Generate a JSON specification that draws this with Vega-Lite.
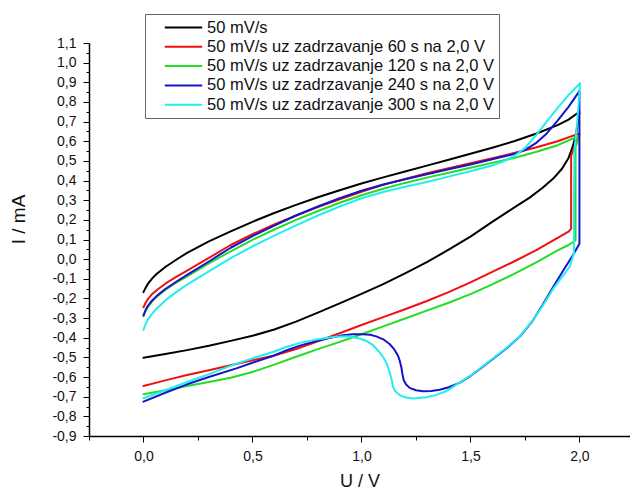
{
  "$schema": "https://vega.github.io/schema/vega-lite/v6.json",
  "width": 541,
  "height": 393,
  "autosize": {"type": "none"},
  "padding": {"left": 89, "top": 43, "right": 0, "bottom": 55},
  "background": "white",
  "config": {
    "view": {"stroke": null},
    "font": "Liberation Sans"
  },
  "data": {
    "values": [
      {"s":"50 mV/s","i":0,"U":0,"I":-0.168},
      {"s":"50 mV/s","i":1,"U":0.01,"I":-0.145},
      {"s":"50 mV/s","i":2,"U":0.02,"I":-0.126},
      {"s":"50 mV/s","i":3,"U":0.04,"I":-0.098},
      {"s":"50 mV/s","i":4,"U":0.06,"I":-0.076},
      {"s":"50 mV/s","i":5,"U":0.1,"I":-0.04},
      {"s":"50 mV/s","i":6,"U":0.15,"I":-0.003},
      {"s":"50 mV/s","i":7,"U":0.2,"I":0.032},
      {"s":"50 mV/s","i":8,"U":0.3,"I":0.09},
      {"s":"50 mV/s","i":9,"U":0.4,"I":0.141},
      {"s":"50 mV/s","i":10,"U":0.5,"I":0.19},
      {"s":"50 mV/s","i":11,"U":0.6,"I":0.235},
      {"s":"50 mV/s","i":12,"U":0.7,"I":0.276},
      {"s":"50 mV/s","i":13,"U":0.8,"I":0.315},
      {"s":"50 mV/s","i":14,"U":0.9,"I":0.351},
      {"s":"50 mV/s","i":15,"U":1.0,"I":0.385},
      {"s":"50 mV/s","i":16,"U":1.1,"I":0.416},
      {"s":"50 mV/s","i":17,"U":1.2,"I":0.446},
      {"s":"50 mV/s","i":18,"U":1.3,"I":0.476},
      {"s":"50 mV/s","i":19,"U":1.4,"I":0.506},
      {"s":"50 mV/s","i":20,"U":1.5,"I":0.536},
      {"s":"50 mV/s","i":21,"U":1.6,"I":0.567},
      {"s":"50 mV/s","i":22,"U":1.7,"I":0.6},
      {"s":"50 mV/s","i":23,"U":1.8,"I":0.638},
      {"s":"50 mV/s","i":24,"U":1.9,"I":0.682},
      {"s":"50 mV/s","i":25,"U":1.95,"I":0.71},
      {"s":"50 mV/s","i":26,"U":2.0,"I":0.75},
      {"s":"50 mV/s","i":27,"U":1.995,"I":0.71},
      {"s":"50 mV/s","i":28,"U":1.985,"I":0.64},
      {"s":"50 mV/s","i":29,"U":1.97,"I":0.575},
      {"s":"50 mV/s","i":30,"U":1.95,"I":0.515},
      {"s":"50 mV/s","i":31,"U":1.92,"I":0.46},
      {"s":"50 mV/s","i":32,"U":1.88,"I":0.41},
      {"s":"50 mV/s","i":33,"U":1.83,"I":0.362},
      {"s":"50 mV/s","i":34,"U":1.77,"I":0.312},
      {"s":"50 mV/s","i":35,"U":1.7,"I":0.262},
      {"s":"50 mV/s","i":36,"U":1.6,"I":0.19},
      {"s":"50 mV/s","i":37,"U":1.5,"I":0.115},
      {"s":"50 mV/s","i":38,"U":1.4,"I":0.048},
      {"s":"50 mV/s","i":39,"U":1.3,"I":-0.015},
      {"s":"50 mV/s","i":40,"U":1.2,"I":-0.072},
      {"s":"50 mV/s","i":41,"U":1.1,"I":-0.127},
      {"s":"50 mV/s","i":42,"U":1.0,"I":-0.177},
      {"s":"50 mV/s","i":43,"U":0.9,"I":-0.225},
      {"s":"50 mV/s","i":44,"U":0.8,"I":-0.272},
      {"s":"50 mV/s","i":45,"U":0.7,"I":-0.318},
      {"s":"50 mV/s","i":46,"U":0.6,"I":-0.358},
      {"s":"50 mV/s","i":47,"U":0.5,"I":-0.39},
      {"s":"50 mV/s","i":48,"U":0.4,"I":-0.416},
      {"s":"50 mV/s","i":49,"U":0.3,"I":-0.441},
      {"s":"50 mV/s","i":50,"U":0.2,"I":-0.463},
      {"s":"50 mV/s","i":51,"U":0.1,"I":-0.483},
      {"s":"50 mV/s","i":52,"U":0.0,"I":-0.502},

      {"s":"50 mV/s uz zadrzavanje 60 s na 2,0 V","i":0,"U":0,"I":-0.245},
      {"s":"50 mV/s uz zadrzavanje 60 s na 2,0 V","i":1,"U":0.01,"I":-0.222},
      {"s":"50 mV/s uz zadrzavanje 60 s na 2,0 V","i":2,"U":0.02,"I":-0.203},
      {"s":"50 mV/s uz zadrzavanje 60 s na 2,0 V","i":3,"U":0.04,"I":-0.177},
      {"s":"50 mV/s uz zadrzavanje 60 s na 2,0 V","i":4,"U":0.06,"I":-0.158},
      {"s":"50 mV/s uz zadrzavanje 60 s na 2,0 V","i":5,"U":0.1,"I":-0.125},
      {"s":"50 mV/s uz zadrzavanje 60 s na 2,0 V","i":6,"U":0.15,"I":-0.09},
      {"s":"50 mV/s uz zadrzavanje 60 s na 2,0 V","i":7,"U":0.2,"I":-0.058},
      {"s":"50 mV/s uz zadrzavanje 60 s na 2,0 V","i":8,"U":0.3,"I":0.006},
      {"s":"50 mV/s uz zadrzavanje 60 s na 2,0 V","i":9,"U":0.4,"I":0.072},
      {"s":"50 mV/s uz zadrzavanje 60 s na 2,0 V","i":10,"U":0.5,"I":0.127},
      {"s":"50 mV/s uz zadrzavanje 60 s na 2,0 V","i":11,"U":0.6,"I":0.177},
      {"s":"50 mV/s uz zadrzavanje 60 s na 2,0 V","i":12,"U":0.7,"I":0.222},
      {"s":"50 mV/s uz zadrzavanje 60 s na 2,0 V","i":13,"U":0.8,"I":0.265},
      {"s":"50 mV/s uz zadrzavanje 60 s na 2,0 V","i":14,"U":0.9,"I":0.305},
      {"s":"50 mV/s uz zadrzavanje 60 s na 2,0 V","i":15,"U":1.0,"I":0.343},
      {"s":"50 mV/s uz zadrzavanje 60 s na 2,0 V","i":16,"U":1.1,"I":0.378},
      {"s":"50 mV/s uz zadrzavanje 60 s na 2,0 V","i":17,"U":1.2,"I":0.408},
      {"s":"50 mV/s uz zadrzavanje 60 s na 2,0 V","i":18,"U":1.3,"I":0.437},
      {"s":"50 mV/s uz zadrzavanje 60 s na 2,0 V","i":19,"U":1.4,"I":0.463},
      {"s":"50 mV/s uz zadrzavanje 60 s na 2,0 V","i":20,"U":1.5,"I":0.488},
      {"s":"50 mV/s uz zadrzavanje 60 s na 2,0 V","i":21,"U":1.6,"I":0.513},
      {"s":"50 mV/s uz zadrzavanje 60 s na 2,0 V","i":22,"U":1.7,"I":0.54},
      {"s":"50 mV/s uz zadrzavanje 60 s na 2,0 V","i":23,"U":1.8,"I":0.568},
      {"s":"50 mV/s uz zadrzavanje 60 s na 2,0 V","i":24,"U":1.9,"I":0.6},
      {"s":"50 mV/s uz zadrzavanje 60 s na 2,0 V","i":25,"U":2.0,"I":0.64},
      {"s":"50 mV/s uz zadrzavanje 60 s na 2,0 V","i":26,"U":1.962,"I":0.525},
      {"s":"50 mV/s uz zadrzavanje 60 s na 2,0 V","i":27,"U":1.962,"I":0.155},
      {"s":"50 mV/s uz zadrzavanje 60 s na 2,0 V","i":28,"U":1.95,"I":0.14},
      {"s":"50 mV/s uz zadrzavanje 60 s na 2,0 V","i":29,"U":1.9,"I":0.108},
      {"s":"50 mV/s uz zadrzavanje 60 s na 2,0 V","i":30,"U":1.8,"I":0.045},
      {"s":"50 mV/s uz zadrzavanje 60 s na 2,0 V","i":31,"U":1.7,"I":-0.012},
      {"s":"50 mV/s uz zadrzavanje 60 s na 2,0 V","i":32,"U":1.6,"I":-0.065},
      {"s":"50 mV/s uz zadrzavanje 60 s na 2,0 V","i":33,"U":1.5,"I":-0.118},
      {"s":"50 mV/s uz zadrzavanje 60 s na 2,0 V","i":34,"U":1.4,"I":-0.168},
      {"s":"50 mV/s uz zadrzavanje 60 s na 2,0 V","i":35,"U":1.3,"I":-0.213},
      {"s":"50 mV/s uz zadrzavanje 60 s na 2,0 V","i":36,"U":1.2,"I":-0.255},
      {"s":"50 mV/s uz zadrzavanje 60 s na 2,0 V","i":37,"U":1.1,"I":-0.295},
      {"s":"50 mV/s uz zadrzavanje 60 s na 2,0 V","i":38,"U":1.0,"I":-0.335},
      {"s":"50 mV/s uz zadrzavanje 60 s na 2,0 V","i":39,"U":0.9,"I":-0.377},
      {"s":"50 mV/s uz zadrzavanje 60 s na 2,0 V","i":40,"U":0.8,"I":-0.418},
      {"s":"50 mV/s uz zadrzavanje 60 s na 2,0 V","i":41,"U":0.7,"I":-0.457},
      {"s":"50 mV/s uz zadrzavanje 60 s na 2,0 V","i":42,"U":0.6,"I":-0.49},
      {"s":"50 mV/s uz zadrzavanje 60 s na 2,0 V","i":43,"U":0.5,"I":-0.515},
      {"s":"50 mV/s uz zadrzavanje 60 s na 2,0 V","i":44,"U":0.4,"I":-0.54},
      {"s":"50 mV/s uz zadrzavanje 60 s na 2,0 V","i":45,"U":0.3,"I":-0.565},
      {"s":"50 mV/s uz zadrzavanje 60 s na 2,0 V","i":46,"U":0.2,"I":-0.59},
      {"s":"50 mV/s uz zadrzavanje 60 s na 2,0 V","i":47,"U":0.1,"I":-0.617},
      {"s":"50 mV/s uz zadrzavanje 60 s na 2,0 V","i":48,"U":0.0,"I":-0.646},

      {"s":"50 mV/s uz zadrzavanje 120 s na 2,0 V","i":0,"U":0,"I":-0.29},
      {"s":"50 mV/s uz zadrzavanje 120 s na 2,0 V","i":1,"U":0.01,"I":-0.262},
      {"s":"50 mV/s uz zadrzavanje 120 s na 2,0 V","i":2,"U":0.02,"I":-0.243},
      {"s":"50 mV/s uz zadrzavanje 120 s na 2,0 V","i":3,"U":0.04,"I":-0.215},
      {"s":"50 mV/s uz zadrzavanje 120 s na 2,0 V","i":4,"U":0.06,"I":-0.192},
      {"s":"50 mV/s uz zadrzavanje 120 s na 2,0 V","i":5,"U":0.1,"I":-0.157},
      {"s":"50 mV/s uz zadrzavanje 120 s na 2,0 V","i":6,"U":0.15,"I":-0.12},
      {"s":"50 mV/s uz zadrzavanje 120 s na 2,0 V","i":7,"U":0.2,"I":-0.088},
      {"s":"50 mV/s uz zadrzavanje 120 s na 2,0 V","i":8,"U":0.3,"I":-0.022},
      {"s":"50 mV/s uz zadrzavanje 120 s na 2,0 V","i":9,"U":0.4,"I":0.04},
      {"s":"50 mV/s uz zadrzavanje 120 s na 2,0 V","i":10,"U":0.5,"I":0.098},
      {"s":"50 mV/s uz zadrzavanje 120 s na 2,0 V","i":11,"U":0.6,"I":0.151},
      {"s":"50 mV/s uz zadrzavanje 120 s na 2,0 V","i":12,"U":0.7,"I":0.2},
      {"s":"50 mV/s uz zadrzavanje 120 s na 2,0 V","i":13,"U":0.8,"I":0.245},
      {"s":"50 mV/s uz zadrzavanje 120 s na 2,0 V","i":14,"U":0.9,"I":0.287},
      {"s":"50 mV/s uz zadrzavanje 120 s na 2,0 V","i":15,"U":1.0,"I":0.325},
      {"s":"50 mV/s uz zadrzavanje 120 s na 2,0 V","i":16,"U":1.1,"I":0.358},
      {"s":"50 mV/s uz zadrzavanje 120 s na 2,0 V","i":17,"U":1.2,"I":0.388},
      {"s":"50 mV/s uz zadrzavanje 120 s na 2,0 V","i":18,"U":1.3,"I":0.415},
      {"s":"50 mV/s uz zadrzavanje 120 s na 2,0 V","i":19,"U":1.4,"I":0.44},
      {"s":"50 mV/s uz zadrzavanje 120 s na 2,0 V","i":20,"U":1.5,"I":0.465},
      {"s":"50 mV/s uz zadrzavanje 120 s na 2,0 V","i":21,"U":1.6,"I":0.49},
      {"s":"50 mV/s uz zadrzavanje 120 s na 2,0 V","i":22,"U":1.7,"I":0.515},
      {"s":"50 mV/s uz zadrzavanje 120 s na 2,0 V","i":23,"U":1.8,"I":0.545},
      {"s":"50 mV/s uz zadrzavanje 120 s na 2,0 V","i":24,"U":1.9,"I":0.58},
      {"s":"50 mV/s uz zadrzavanje 120 s na 2,0 V","i":25,"U":2.0,"I":0.628},
      {"s":"50 mV/s uz zadrzavanje 120 s na 2,0 V","i":26,"U":1.982,"I":0.57},
      {"s":"50 mV/s uz zadrzavanje 120 s na 2,0 V","i":27,"U":1.982,"I":0.095},
      {"s":"50 mV/s uz zadrzavanje 120 s na 2,0 V","i":28,"U":1.95,"I":0.072},
      {"s":"50 mV/s uz zadrzavanje 120 s na 2,0 V","i":29,"U":1.9,"I":0.045},
      {"s":"50 mV/s uz zadrzavanje 120 s na 2,0 V","i":30,"U":1.8,"I":-0.018},
      {"s":"50 mV/s uz zadrzavanje 120 s na 2,0 V","i":31,"U":1.7,"I":-0.075},
      {"s":"50 mV/s uz zadrzavanje 120 s na 2,0 V","i":32,"U":1.6,"I":-0.128},
      {"s":"50 mV/s uz zadrzavanje 120 s na 2,0 V","i":33,"U":1.5,"I":-0.178},
      {"s":"50 mV/s uz zadrzavanje 120 s na 2,0 V","i":34,"U":1.4,"I":-0.222},
      {"s":"50 mV/s uz zadrzavanje 120 s na 2,0 V","i":35,"U":1.3,"I":-0.262},
      {"s":"50 mV/s uz zadrzavanje 120 s na 2,0 V","i":36,"U":1.2,"I":-0.302},
      {"s":"50 mV/s uz zadrzavanje 120 s na 2,0 V","i":37,"U":1.1,"I":-0.342},
      {"s":"50 mV/s uz zadrzavanje 120 s na 2,0 V","i":38,"U":1.0,"I":-0.382},
      {"s":"50 mV/s uz zadrzavanje 120 s na 2,0 V","i":39,"U":0.9,"I":-0.421},
      {"s":"50 mV/s uz zadrzavanje 120 s na 2,0 V","i":40,"U":0.8,"I":-0.458},
      {"s":"50 mV/s uz zadrzavanje 120 s na 2,0 V","i":41,"U":0.7,"I":-0.497},
      {"s":"50 mV/s uz zadrzavanje 120 s na 2,0 V","i":42,"U":0.6,"I":-0.537},
      {"s":"50 mV/s uz zadrzavanje 120 s na 2,0 V","i":43,"U":0.5,"I":-0.574},
      {"s":"50 mV/s uz zadrzavanje 120 s na 2,0 V","i":44,"U":0.4,"I":-0.604},
      {"s":"50 mV/s uz zadrzavanje 120 s na 2,0 V","i":45,"U":0.3,"I":-0.625},
      {"s":"50 mV/s uz zadrzavanje 120 s na 2,0 V","i":46,"U":0.2,"I":-0.646},
      {"s":"50 mV/s uz zadrzavanje 120 s na 2,0 V","i":47,"U":0.1,"I":-0.667},
      {"s":"50 mV/s uz zadrzavanje 120 s na 2,0 V","i":48,"U":0.0,"I":-0.688},

      {"s":"50 mV/s uz zadrzavanje 240 s na 2,0 V","i":0,"U":0,"I":-0.286},
      {"s":"50 mV/s uz zadrzavanje 240 s na 2,0 V","i":1,"U":0.01,"I":-0.258},
      {"s":"50 mV/s uz zadrzavanje 240 s na 2,0 V","i":2,"U":0.02,"I":-0.238},
      {"s":"50 mV/s uz zadrzavanje 240 s na 2,0 V","i":3,"U":0.04,"I":-0.21},
      {"s":"50 mV/s uz zadrzavanje 240 s na 2,0 V","i":4,"U":0.06,"I":-0.188},
      {"s":"50 mV/s uz zadrzavanje 240 s na 2,0 V","i":5,"U":0.1,"I":-0.152},
      {"s":"50 mV/s uz zadrzavanje 240 s na 2,0 V","i":6,"U":0.15,"I":-0.115},
      {"s":"50 mV/s uz zadrzavanje 240 s na 2,0 V","i":7,"U":0.2,"I":-0.08},
      {"s":"50 mV/s uz zadrzavanje 240 s na 2,0 V","i":8,"U":0.3,"I":-0.012},
      {"s":"50 mV/s uz zadrzavanje 240 s na 2,0 V","i":9,"U":0.4,"I":0.058},
      {"s":"50 mV/s uz zadrzavanje 240 s na 2,0 V","i":10,"U":0.5,"I":0.117},
      {"s":"50 mV/s uz zadrzavanje 240 s na 2,0 V","i":11,"U":0.6,"I":0.171},
      {"s":"50 mV/s uz zadrzavanje 240 s na 2,0 V","i":12,"U":0.7,"I":0.222},
      {"s":"50 mV/s uz zadrzavanje 240 s na 2,0 V","i":13,"U":0.8,"I":0.268},
      {"s":"50 mV/s uz zadrzavanje 240 s na 2,0 V","i":14,"U":0.9,"I":0.31},
      {"s":"50 mV/s uz zadrzavanje 240 s na 2,0 V","i":15,"U":1.0,"I":0.348},
      {"s":"50 mV/s uz zadrzavanje 240 s na 2,0 V","i":16,"U":1.1,"I":0.38},
      {"s":"50 mV/s uz zadrzavanje 240 s na 2,0 V","i":17,"U":1.2,"I":0.407},
      {"s":"50 mV/s uz zadrzavanje 240 s na 2,0 V","i":18,"U":1.3,"I":0.432},
      {"s":"50 mV/s uz zadrzavanje 240 s na 2,0 V","i":19,"U":1.4,"I":0.457},
      {"s":"50 mV/s uz zadrzavanje 240 s na 2,0 V","i":20,"U":1.5,"I":0.482},
      {"s":"50 mV/s uz zadrzavanje 240 s na 2,0 V","i":21,"U":1.6,"I":0.508},
      {"s":"50 mV/s uz zadrzavanje 240 s na 2,0 V","i":22,"U":1.7,"I":0.535},
      {"s":"50 mV/s uz zadrzavanje 240 s na 2,0 V","i":23,"U":1.75,"I":0.555},
      {"s":"50 mV/s uz zadrzavanje 240 s na 2,0 V","i":24,"U":1.8,"I":0.59},
      {"s":"50 mV/s uz zadrzavanje 240 s na 2,0 V","i":25,"U":1.85,"I":0.64},
      {"s":"50 mV/s uz zadrzavanje 240 s na 2,0 V","i":26,"U":1.9,"I":0.705},
      {"s":"50 mV/s uz zadrzavanje 240 s na 2,0 V","i":27,"U":1.95,"I":0.775},
      {"s":"50 mV/s uz zadrzavanje 240 s na 2,0 V","i":28,"U":2.0,"I":0.855},
      {"s":"50 mV/s uz zadrzavanje 240 s na 2,0 V","i":29,"U":2.0,"I":0.078},
      {"s":"50 mV/s uz zadrzavanje 240 s na 2,0 V","i":30,"U":1.97,"I":0.02},
      {"s":"50 mV/s uz zadrzavanje 240 s na 2,0 V","i":31,"U":1.93,"I":-0.05},
      {"s":"50 mV/s uz zadrzavanje 240 s na 2,0 V","i":32,"U":1.88,"I":-0.14},
      {"s":"50 mV/s uz zadrzavanje 240 s na 2,0 V","i":33,"U":1.83,"I":-0.235},
      {"s":"50 mV/s uz zadrzavanje 240 s na 2,0 V","i":34,"U":1.787,"I":-0.311},
      {"s":"50 mV/s uz zadrzavanje 240 s na 2,0 V","i":35,"U":1.73,"I":-0.39},
      {"s":"50 mV/s uz zadrzavanje 240 s na 2,0 V","i":36,"U":1.665,"I":-0.455},
      {"s":"50 mV/s uz zadrzavanje 240 s na 2,0 V","i":37,"U":1.6,"I":-0.51},
      {"s":"50 mV/s uz zadrzavanje 240 s na 2,0 V","i":38,"U":1.542,"I":-0.56},
      {"s":"50 mV/s uz zadrzavanje 240 s na 2,0 V","i":39,"U":1.5,"I":-0.595},
      {"s":"50 mV/s uz zadrzavanje 240 s na 2,0 V","i":40,"U":1.45,"I":-0.63},
      {"s":"50 mV/s uz zadrzavanje 240 s na 2,0 V","i":41,"U":1.4,"I":-0.652},
      {"s":"50 mV/s uz zadrzavanje 240 s na 2,0 V","i":42,"U":1.359,"I":-0.665},
      {"s":"50 mV/s uz zadrzavanje 240 s na 2,0 V","i":43,"U":1.32,"I":-0.671},
      {"s":"50 mV/s uz zadrzavanje 240 s na 2,0 V","i":44,"U":1.282,"I":-0.672},
      {"s":"50 mV/s uz zadrzavanje 240 s na 2,0 V","i":45,"U":1.25,"I":-0.667},
      {"s":"50 mV/s uz zadrzavanje 240 s na 2,0 V","i":46,"U":1.221,"I":-0.655},
      {"s":"50 mV/s uz zadrzavanje 240 s na 2,0 V","i":47,"U":1.205,"I":-0.638},
      {"s":"50 mV/s uz zadrzavanje 240 s na 2,0 V","i":48,"U":1.194,"I":-0.616},
      {"s":"50 mV/s uz zadrzavanje 240 s na 2,0 V","i":49,"U":1.188,"I":-0.585},
      {"s":"50 mV/s uz zadrzavanje 240 s na 2,0 V","i":50,"U":1.183,"I":-0.55},
      {"s":"50 mV/s uz zadrzavanje 240 s na 2,0 V","i":51,"U":1.175,"I":-0.515},
      {"s":"50 mV/s uz zadrzavanje 240 s na 2,0 V","i":52,"U":1.167,"I":-0.49},
      {"s":"50 mV/s uz zadrzavanje 240 s na 2,0 V","i":53,"U":1.15,"I":-0.458},
      {"s":"50 mV/s uz zadrzavanje 240 s na 2,0 V","i":54,"U":1.129,"I":-0.432},
      {"s":"50 mV/s uz zadrzavanje 240 s na 2,0 V","i":55,"U":1.1,"I":-0.408},
      {"s":"50 mV/s uz zadrzavanje 240 s na 2,0 V","i":56,"U":1.068,"I":-0.393},
      {"s":"50 mV/s uz zadrzavanje 240 s na 2,0 V","i":57,"U":1.04,"I":-0.385},
      {"s":"50 mV/s uz zadrzavanje 240 s na 2,0 V","i":58,"U":1.007,"I":-0.382},
      {"s":"50 mV/s uz zadrzavanje 240 s na 2,0 V","i":59,"U":0.96,"I":-0.382},
      {"s":"50 mV/s uz zadrzavanje 240 s na 2,0 V","i":60,"U":0.915,"I":-0.387},
      {"s":"50 mV/s uz zadrzavanje 240 s na 2,0 V","i":61,"U":0.869,"I":-0.398},
      {"s":"50 mV/s uz zadrzavanje 240 s na 2,0 V","i":62,"U":0.808,"I":-0.413},
      {"s":"50 mV/s uz zadrzavanje 240 s na 2,0 V","i":63,"U":0.717,"I":-0.44},
      {"s":"50 mV/s uz zadrzavanje 240 s na 2,0 V","i":64,"U":0.655,"I":-0.465},
      {"s":"50 mV/s uz zadrzavanje 240 s na 2,0 V","i":65,"U":0.6,"I":-0.49},
      {"s":"50 mV/s uz zadrzavanje 240 s na 2,0 V","i":66,"U":0.5,"I":-0.527},
      {"s":"50 mV/s uz zadrzavanje 240 s na 2,0 V","i":67,"U":0.426,"I":-0.556},
      {"s":"50 mV/s uz zadrzavanje 240 s na 2,0 V","i":68,"U":0.3,"I":-0.6},
      {"s":"50 mV/s uz zadrzavanje 240 s na 2,0 V","i":69,"U":0.2,"I":-0.637},
      {"s":"50 mV/s uz zadrzavanje 240 s na 2,0 V","i":70,"U":0.1,"I":-0.68},
      {"s":"50 mV/s uz zadrzavanje 240 s na 2,0 V","i":71,"U":0.0,"I":-0.725},

      {"s":"50 mV/s uz zadrzavanje 300 s na 2,0 V","i":0,"U":0,"I":-0.36},
      {"s":"50 mV/s uz zadrzavanje 300 s na 2,0 V","i":1,"U":0.01,"I":-0.33},
      {"s":"50 mV/s uz zadrzavanje 300 s na 2,0 V","i":2,"U":0.02,"I":-0.308},
      {"s":"50 mV/s uz zadrzavanje 300 s na 2,0 V","i":3,"U":0.04,"I":-0.277},
      {"s":"50 mV/s uz zadrzavanje 300 s na 2,0 V","i":4,"U":0.06,"I":-0.252},
      {"s":"50 mV/s uz zadrzavanje 300 s na 2,0 V","i":5,"U":0.1,"I":-0.21},
      {"s":"50 mV/s uz zadrzavanje 300 s na 2,0 V","i":6,"U":0.15,"I":-0.168},
      {"s":"50 mV/s uz zadrzavanje 300 s na 2,0 V","i":7,"U":0.2,"I":-0.13},
      {"s":"50 mV/s uz zadrzavanje 300 s na 2,0 V","i":8,"U":0.3,"I":-0.062},
      {"s":"50 mV/s uz zadrzavanje 300 s na 2,0 V","i":9,"U":0.4,"I":0.005},
      {"s":"50 mV/s uz zadrzavanje 300 s na 2,0 V","i":10,"U":0.5,"I":0.065},
      {"s":"50 mV/s uz zadrzavanje 300 s na 2,0 V","i":11,"U":0.6,"I":0.12},
      {"s":"50 mV/s uz zadrzavanje 300 s na 2,0 V","i":12,"U":0.7,"I":0.172},
      {"s":"50 mV/s uz zadrzavanje 300 s na 2,0 V","i":13,"U":0.8,"I":0.222},
      {"s":"50 mV/s uz zadrzavanje 300 s na 2,0 V","i":14,"U":0.9,"I":0.268},
      {"s":"50 mV/s uz zadrzavanje 300 s na 2,0 V","i":15,"U":1.0,"I":0.31},
      {"s":"50 mV/s uz zadrzavanje 300 s na 2,0 V","i":16,"U":1.1,"I":0.342},
      {"s":"50 mV/s uz zadrzavanje 300 s na 2,0 V","i":17,"U":1.2,"I":0.368},
      {"s":"50 mV/s uz zadrzavanje 300 s na 2,0 V","i":18,"U":1.3,"I":0.393},
      {"s":"50 mV/s uz zadrzavanje 300 s na 2,0 V","i":19,"U":1.4,"I":0.42},
      {"s":"50 mV/s uz zadrzavanje 300 s na 2,0 V","i":20,"U":1.5,"I":0.447},
      {"s":"50 mV/s uz zadrzavanje 300 s na 2,0 V","i":21,"U":1.6,"I":0.477},
      {"s":"50 mV/s uz zadrzavanje 300 s na 2,0 V","i":22,"U":1.65,"I":0.497},
      {"s":"50 mV/s uz zadrzavanje 300 s na 2,0 V","i":23,"U":1.7,"I":0.525},
      {"s":"50 mV/s uz zadrzavanje 300 s na 2,0 V","i":24,"U":1.75,"I":0.565},
      {"s":"50 mV/s uz zadrzavanje 300 s na 2,0 V","i":25,"U":1.8,"I":0.63},
      {"s":"50 mV/s uz zadrzavanje 300 s na 2,0 V","i":26,"U":1.85,"I":0.7},
      {"s":"50 mV/s uz zadrzavanje 300 s na 2,0 V","i":27,"U":1.9,"I":0.77},
      {"s":"50 mV/s uz zadrzavanje 300 s na 2,0 V","i":28,"U":1.95,"I":0.835},
      {"s":"50 mV/s uz zadrzavanje 300 s na 2,0 V","i":29,"U":2.003,"I":0.895},
      {"s":"50 mV/s uz zadrzavanje 300 s na 2,0 V","i":30,"U":1.99,"I":0.7},
      {"s":"50 mV/s uz zadrzavanje 300 s na 2,0 V","i":31,"U":1.977,"I":0.55},
      {"s":"50 mV/s uz zadrzavanje 300 s na 2,0 V","i":32,"U":1.975,"I":0.3},
      {"s":"50 mV/s uz zadrzavanje 300 s na 2,0 V","i":33,"U":1.975,"I":0.03},
      {"s":"50 mV/s uz zadrzavanje 300 s na 2,0 V","i":34,"U":1.955,"I":-0.04},
      {"s":"50 mV/s uz zadrzavanje 300 s na 2,0 V","i":35,"U":1.92,"I":-0.09},
      {"s":"50 mV/s uz zadrzavanje 300 s na 2,0 V","i":36,"U":1.88,"I":-0.15},
      {"s":"50 mV/s uz zadrzavanje 300 s na 2,0 V","i":37,"U":1.83,"I":-0.24},
      {"s":"50 mV/s uz zadrzavanje 300 s na 2,0 V","i":38,"U":1.787,"I":-0.31},
      {"s":"50 mV/s uz zadrzavanje 300 s na 2,0 V","i":39,"U":1.73,"I":-0.388},
      {"s":"50 mV/s uz zadrzavanje 300 s na 2,0 V","i":40,"U":1.665,"I":-0.452},
      {"s":"50 mV/s uz zadrzavanje 300 s na 2,0 V","i":41,"U":1.6,"I":-0.508},
      {"s":"50 mV/s uz zadrzavanje 300 s na 2,0 V","i":42,"U":1.542,"I":-0.558},
      {"s":"50 mV/s uz zadrzavanje 300 s na 2,0 V","i":43,"U":1.5,"I":-0.593},
      {"s":"50 mV/s uz zadrzavanje 300 s na 2,0 V","i":44,"U":1.45,"I":-0.628},
      {"s":"50 mV/s uz zadrzavanje 300 s na 2,0 V","i":45,"U":1.42,"I":-0.65},
      {"s":"50 mV/s uz zadrzavanje 300 s na 2,0 V","i":46,"U":1.389,"I":-0.672},
      {"s":"50 mV/s uz zadrzavanje 300 s na 2,0 V","i":47,"U":1.34,"I":-0.692},
      {"s":"50 mV/s uz zadrzavanje 300 s na 2,0 V","i":48,"U":1.298,"I":-0.703},
      {"s":"50 mV/s uz zadrzavanje 300 s na 2,0 V","i":49,"U":1.236,"I":-0.709},
      {"s":"50 mV/s uz zadrzavanje 300 s na 2,0 V","i":50,"U":1.2,"I":-0.703},
      {"s":"50 mV/s uz zadrzavanje 300 s na 2,0 V","i":51,"U":1.175,"I":-0.692},
      {"s":"50 mV/s uz zadrzavanje 300 s na 2,0 V","i":52,"U":1.155,"I":-0.672},
      {"s":"50 mV/s uz zadrzavanje 300 s na 2,0 V","i":53,"U":1.145,"I":-0.65},
      {"s":"50 mV/s uz zadrzavanje 300 s na 2,0 V","i":54,"U":1.138,"I":-0.61},
      {"s":"50 mV/s uz zadrzavanje 300 s na 2,0 V","i":55,"U":1.126,"I":-0.565},
      {"s":"50 mV/s uz zadrzavanje 300 s na 2,0 V","i":56,"U":1.115,"I":-0.53},
      {"s":"50 mV/s uz zadrzavanje 300 s na 2,0 V","i":57,"U":1.099,"I":-0.497},
      {"s":"50 mV/s uz zadrzavanje 300 s na 2,0 V","i":58,"U":1.08,"I":-0.47},
      {"s":"50 mV/s uz zadrzavanje 300 s na 2,0 V","i":59,"U":1.053,"I":-0.438},
      {"s":"50 mV/s uz zadrzavanje 300 s na 2,0 V","i":60,"U":1.02,"I":-0.415},
      {"s":"50 mV/s uz zadrzavanje 300 s na 2,0 V","i":61,"U":0.992,"I":-0.404},
      {"s":"50 mV/s uz zadrzavanje 300 s na 2,0 V","i":62,"U":0.931,"I":-0.392},
      {"s":"50 mV/s uz zadrzavanje 300 s na 2,0 V","i":63,"U":0.88,"I":-0.395},
      {"s":"50 mV/s uz zadrzavanje 300 s na 2,0 V","i":64,"U":0.839,"I":-0.401},
      {"s":"50 mV/s uz zadrzavanje 300 s na 2,0 V","i":65,"U":0.78,"I":-0.412},
      {"s":"50 mV/s uz zadrzavanje 300 s na 2,0 V","i":66,"U":0.717,"I":-0.426},
      {"s":"50 mV/s uz zadrzavanje 300 s na 2,0 V","i":67,"U":0.655,"I":-0.447},
      {"s":"50 mV/s uz zadrzavanje 300 s na 2,0 V","i":68,"U":0.6,"I":-0.47},
      {"s":"50 mV/s uz zadrzavanje 300 s na 2,0 V","i":69,"U":0.5,"I":-0.505},
      {"s":"50 mV/s uz zadrzavanje 300 s na 2,0 V","i":70,"U":0.426,"I":-0.532},
      {"s":"50 mV/s uz zadrzavanje 300 s na 2,0 V","i":71,"U":0.3,"I":-0.585},
      {"s":"50 mV/s uz zadrzavanje 300 s na 2,0 V","i":72,"U":0.2,"I":-0.625},
      {"s":"50 mV/s uz zadrzavanje 300 s na 2,0 V","i":73,"U":0.1,"I":-0.667},
      {"s":"50 mV/s uz zadrzavanje 300 s na 2,0 V","i":74,"U":0.0,"I":-0.708}
    ]
  },
  "layer": [
    {
      "mark": {"type": "line", "opacity": 0},
      "encoding": {
        "x": {
          "field": "U", "type": "quantitative",
          "scale": {"domain": [-0.25, 2.232], "nice": false, "zero": false},
          "axis": {
            "orient": "bottom",
            "title": null,
            "values": [-0.25, 0.25, 0.75, 1.25, 1.75, 2.25],
            "labels": false,
            "domain": false,
            "grid": false,
            "tickColor": "#000", "tickWidth": 1, "tickSize": 4
          }
        },
        "y": {
          "field": "I", "type": "quantitative",
          "scale": {"domain": [-0.9, 1.1], "nice": false, "zero": false},
          "axis": {
            "orient": "left",
            "title": null,
            "values": [-0.85, -0.75, -0.65, -0.55, -0.45, -0.35, -0.25, -0.15, -0.05, 0.05, 0.15, 0.25, 0.35, 0.45, 0.55, 0.65, 0.75, 0.85, 0.95, 1.05],
            "labels": false,
            "domain": false,
            "grid": false,
            "tickColor": "#000", "tickWidth": 1, "tickSize": 3
          }
        },
        "detail": {"field": "s", "type": "nominal"},
        "order": {"field": "i", "type": "quantitative"}
      }
    },
    {
      "mark": {"type": "line", "strokeWidth": 2, "strokeJoin": "round", "strokeCap": "round"},
      "encoding": {
        "x": {
          "field": "U", "type": "quantitative",
          "scale": {"domain": [-0.25, 2.232], "nice": false, "zero": false},
          "axis": {
            "orient": "bottom",
            "title": "U / V",
            "values": [0, 0.5, 1, 1.5, 2],
            "labelExpr": "replace(format(datum.value, '.1f'), '.', ',')",
            "grid": false,
            "domainColor": "#000", "domainWidth": 1.5,
            "tickColor": "#000", "tickWidth": 1, "tickSize": 6,
            "labelFont": "Liberation Sans", "labelFontSize": 14, "labelColor": "#111",
            "labelPadding": 7, "labelFlush": false, "labelOverlap": false,
            "titleFont": "Liberation Sans", "titleFontSize": 18, "titleFontWeight": "normal", "titleColor": "#111",
            "titlePadding": 9
          }
        },
        "y": {
          "field": "I", "type": "quantitative",
          "scale": {"domain": [-0.9, 1.1], "nice": false, "zero": false},
          "axis": {
            "orient": "left",
            "title": "I / mA",
            "values": [-0.9, -0.8, -0.7, -0.6, -0.5, -0.4, -0.3, -0.2, -0.1, 0, 0.1, 0.2, 0.3, 0.4, 0.5, 0.6, 0.7, 0.8, 0.9, 1.0, 1.1],
            "labelExpr": "(datum.value < -0.001 ? '-' : '') + replace(format(abs(datum.value), '.1f'), '.', ',')",
            "grid": false,
            "domainColor": "#000", "domainWidth": 1.5,
            "tickColor": "#000", "tickWidth": 1, "tickSize": 6,
            "labelFont": "Liberation Sans", "labelFontSize": 14, "labelColor": "#111",
            "labelPadding": 7, "labelFlush": false, "labelOverlap": false,
            "titleFont": "Liberation Sans", "titleFontSize": 19, "titleFontWeight": "normal", "titleColor": "#111",
            "titleX": -61, "titleY": 176
          }
        },
        "color": {
          "field": "s", "type": "nominal",
          "scale": {
            "domain": ["50 mV/s", "50 mV/s uz zadrzavanje 60 s na 2,0 V", "50 mV/s uz zadrzavanje 120 s na 2,0 V", "50 mV/s uz zadrzavanje 240 s na 2,0 V", "50 mV/s uz zadrzavanje 300 s na 2,0 V"],
            "range": ["#000000", "#f01010", "#22dd22", "#1414cc", "#22eeee"]
          },
          "legend": {
            "title": null,
            "orient": "none",
            "legendX": 56,
            "legendY": -29,
            "direction": "vertical",
            "symbolType": "M-2.2,0H2.2",
            "symbolSize": 289,
            "symbolStrokeWidth": 2,
            "symbolOffset": 25,
            "labelFont": "Liberation Sans",
            "labelFontSize": 16.5,
            "labelColor": "#111",
            "labelLimit": 500,
            "labelOffset": 14,
            "rowPadding": 1.3,
            "padding": 4,
            "strokeColor": "#666",
            "fillColor": "#fff"
          }
        },
        "order": {"field": "i", "type": "quantitative"}
      }
    }
  ],
  "resolve": {"axis": {"x": "independent", "y": "independent"}}
}
